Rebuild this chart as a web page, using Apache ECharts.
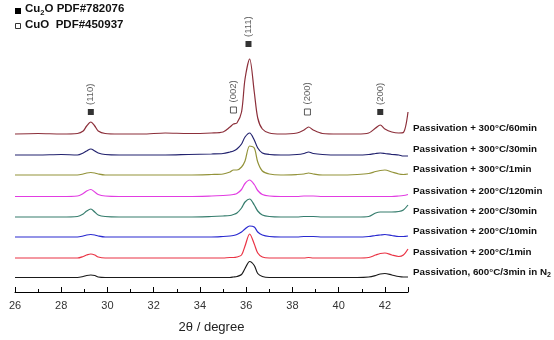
<!DOCTYPE html>
<html>
<head>
<meta charset="utf-8">
<style>
  html, body { margin: 0; padding: 0; background: #fff; }
  #chart { width: 554px; height: 340px; }
</style>
<script src="https://cdn.jsdelivr.net/npm/echarts@6/dist/echarts.min.js"></script>
</head>
<body>
<div id="chart"></div>
<script>
// 2θ sample positions (degree)
const twoTheta = [26, 27, 28, 28.7, 28.95, 29.1, 29.28, 29.45, 29.6, 29.9, 30.5, 31.5, 32.5, 33.5, 34.5,
  35.0, 35.3, 35.45, 35.6, 35.8, 35.95, 36.15, 36.35, 36.5, 36.7, 37.0, 37.5, 38.2, 38.5, 38.7, 38.9,
  39.3, 40.0, 40.8, 41.3, 41.6, 41.8, 42.0, 42.3, 42.6, 42.8, 43]

// intensities (a.u.) above each trace's own baseline
const p300_60 = [0, 0.5, 0, 0.5, 3, 8, 12, 8, 3, 0.5, 0, 0, 1, 0.5, 1, 2, 7, 10, 11, 22, 55, 75, 42, 16, 5, 1, 0, 1, 4, 7, 4, 0.5, 0, 0, 1, 6, 9, 5, 2, 1, 1.5, 22]
const p300_30 = [0, 0, 0.5, 0, 2, 4, 6, 4, 2, 0.5, 0, 0, 0, 0.5, 1, 1.5, 3, 4, 6, 11, 18, 22, 15, 7, 2, 0.5, 0, 0.5, 1.5, 3, 1.5, 0.5, 0, 0, 0.5, 1.5, 2, 1.5, 0.5, 0, -1, -1]
const p300_1 = [0, 0, 0, 0, 1, 2, 2.5, 2, 1, 0, 0, 0, 0, 0, 0.5, 1, 3, 5, 5, 8, 14, 29, 27, 13, 4, 1, 0, 0.5, 1, 2, 1, 0, 0, 0.5, 1.5, 3.5, 4.5, 5, 3, 1, 0.5, 1]
const p200_120 = [0, 0, 0, 0.5, 3, 5.5, 7, 4.5, 2, 0.5, 0, 0, 0, 0, 0.5, 1, 1.5, 2, 3, 7, 13, 16.5, 12, 6, 2, 0.5, 0, 0, 0.5, 0.5, 0.5, 0, 0, 0, 0, 0, 0, 0, 0, 0.5, 1, 2]
const p200_30 = [0, 0, 0, 0.5, 3, 6, 8, 5, 2, 0.5, 0, 0, 0, 0, 0.5, 1, 1.5, 2.5, 4, 9, 15, 18, 12, 6, 2, 0.5, 0, 0, 0.5, 0.5, 0.5, 0, 0, 0, 0.5, 4, 5, 5, 5, 5.5, 7, 12]
const p200_10 = [0, 0, 0, 0, 1, 2, 2.5, 2, 1, 0, 0, 0, 0, 0, 0, 0.5, 1, 1.5, 2.5, 5, 8, 11, 10, 5, 2, 0.5, 0, 0, 0.5, 0.5, 0.5, 0, 0, 0, 0.5, 1.5, 2, 2.5, 1.5, 0.5, 0.5, 1]
const p200_1 = [0, 0, 0, 0, 1.5, 3, 4, 3, 1, 0, 0, 0, 0, 0, 0, 0, 0.5, 0.5, 1, 3, 12, 24, 14, 5, 1, 0, 0, 0, 0, 0.5, 0, 0, 0, 0, 0.5, 3, 4.5, 5, 3, 1.5, 3, 9]
const pN2 = [0, 0, 0, 0, 1, 2, 2.5, 2, 0.5, 0, 0, 0, 0, 0, 0, 0, 0, 0.5, 1, 3, 9, 16, 12, 4, 1, 0, 0, 0, 0, 0, 0, 0, 0, 0, 0.5, 2, 3.5, 4, 2.5, 1, 0.5, 0.5]

const traceNames = [
  'Passivation + 300°C/60min',
  'Passivation + 300°C/30min',
  'Passivation + 300°C/1min',
  'Passivation + 200°C/120min',
  'Passivation + 200°C/30min',
  'Passivation + 200°C/10min',
  'Passivation + 200°C/1min',
  'Passivation, 600°C/3min in N{sub|2}'
]
const traces = [p300_60, p300_30, p300_1, p200_120, p200_30, p200_10, p200_1, pN2]
// vertical stacking offset of each trace (a.u.)
const offsets = [158, 137, 117, 95.5, 75, 55, 34, 14.5]
const colors = ['#8c2f3a', '#22226e', '#93933a', '#e23ce2', '#367d6d', '#2a2ad0', '#ea3344', '#1a1a1a']

// reflection markers: [2θ, height a.u., hkl]
const cu2oPeaks = [[29.28, 180, '(110)'], [36.1, 248, '(111)'], [41.8, 180, '(200)']]
const cuoPeaks = [[35.45, 182, '(002)'], [38.65, 180, '(200)']]

const chart = echarts.init(document.getElementById('chart'))

const labelFont = 'Arial, "Liberation Sans", sans-serif'

const series = traces.map((vals, i) => ({
  name: traceNames[i],
  type: 'line',
  data: twoTheta.map((t, k) => [t, vals[k] + offsets[i]]),
  smooth: 0.3,
  showSymbol: false,
  lineStyle: { color: colors[i], width: 1.2 },
  markPoint: {
    symbolSize: 0,
    data: [{ coord: [43, offsets[i] + 5.5] }],
    label: {
      show: true,
      position: 'right',
      distance: 5,
      formatter: traceNames[i],
      color: '#111',
      fontSize: 9.8,
      fontWeight: 'bold',
      fontFamily: labelFont,
      rich: { sub: { fontSize: 7, fontWeight: 'bold', verticalAlign: 'bottom', padding: [6, 0, 0, 0] } }
    }
  }
}))

const markerLabel = {
  show: true,
  position: 'top',
  distance: 4,
  rotate: 90,
  align: 'left',
  verticalAlign: 'middle',
  color: '#333',
  fontSize: 9.5,
  fontFamily: labelFont,
  formatter: p => p.value[2]
}

series.push({
  type: 'scatter',
  data: cu2oPeaks,
  symbol: 'rect',
  symbolSize: 6,
  itemStyle: { color: '#000' },
  label: markerLabel
})
series.push({
  type: 'scatter',
  data: cuoPeaks,
  symbol: 'rect',
  symbolSize: 6,
  itemStyle: { color: '#fff', borderColor: '#333', borderWidth: 1 },
  label: markerLabel
})

chart.setOption({
  animation: false,
  backgroundColor: '#fff',
  grid: { left: 15, right: 146, top: 20, bottom: 48 },
  xAxis: {
    type: 'value',
    min: 26,
    max: 43,
    interval: 2,
    name: '2θ / degree',
    nameLocation: 'middle',
    nameGap: 29,
    nameTextStyle: { fontSize: 13, color: '#222', fontFamily: labelFont },
    axisLine: { lineStyle: { color: '#000', width: 1 } },
    axisTick: { inside: true, length: 5, lineStyle: { color: '#000' } },
    minorTick: { show: true, splitNumber: 2, length: 3, lineStyle: { color: '#000' } },
    axisLabel: {
      fontSize: 11, color: '#333', margin: 8, fontFamily: labelFont,
      formatter: v => (v % 2 === 0 ? String(v) : '')
    },
    splitLine: { show: false }
  },
  yAxis: {
    type: 'value',
    min: 0,
    max: 272,
    show: false
  },
  graphic: [
    { type: 'rect', left: 15, top: 8, shape: { width: 6, height: 6 }, style: { fill: '#000' } },
    {
      type: 'text', left: 25, top: 3,
      style: {
        text: 'Cu{sub|2}O PDF#782076',
        font: 'bold 11.5px Arial, "Liberation Sans", sans-serif',
        fill: '#111',
        rich: { sub: { fontSize: 7.5, fontWeight: 'bold', padding: [7, 0, 0, 0] } }
      }
    },
    { type: 'rect', left: 15, top: 23, shape: { width: 5, height: 5 }, style: { fill: '#fff', stroke: '#333', lineWidth: 1 } },
    {
      type: 'text', left: 25, top: 19,
      style: { text: 'CuO  PDF#450937', font: 'bold 11.5px Arial, "Liberation Sans", sans-serif', fill: '#111' }
    }
  ],
  series: series
})
</script>
</body>
</html>
